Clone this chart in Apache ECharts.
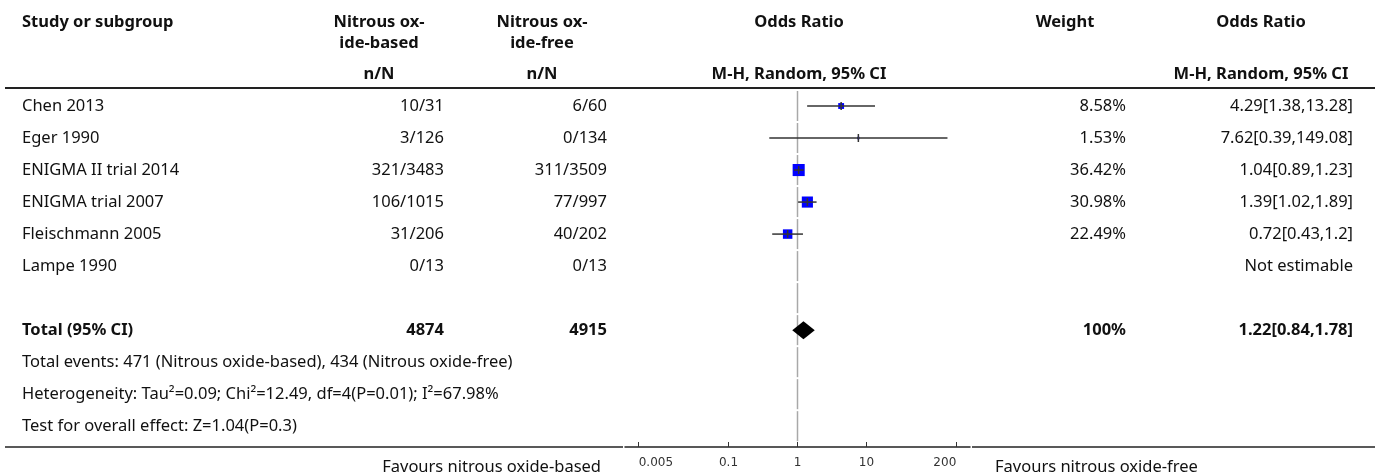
<!DOCTYPE html>
<html>
<head>
<meta charset="utf-8">
<script src="https://cdn.jsdelivr.net/npm/echarts@6/dist/echarts.min.js"></script>
<style>
  html, body { margin: 0; padding: 0; background: #fff; }
  #chart { width: 1375px; height: 474px; }
</style>
</head>
<body>
<div id="chart"></div>
<script>
// ---- Study data ----
const studies = ['Chen 2013', 'Eger 1990', 'ENIGMA II trial 2014', 'ENIGMA trial 2007', 'Fleischmann 2005', 'Lampe 1990'];
const nitrousBased = ['10/31', '3/126', '321/3483', '106/1015', '31/206', '0/13'];
const nitrousFree = ['6/60', '0/134', '311/3509', '77/997', '40/202', '0/13'];
const oddsRatio = [4.29, 7.62, 1.04, 1.39, 0.72, null];
const ciLower = [1.38, 0.39, 0.89, 1.02, 0.43, null];
const ciUpper = [13.28, 149.08, 1.23, 1.89, 1.2, null];
const weights = [8.58, 1.53, 36.42, 30.98, 22.49, null];

// ---- Pooled result ----
const totalBased = 4874;
const totalFree = 4915;
const totalOR = 1.22;
const totalLower = 0.84;
const totalUpper = 1.78;
const totalWeight = 100;

// ---- Footer notes ----
const footerNotes = [
  'Total events: 471 (Nitrous oxide-based), 434 (Nitrous oxide-free)',
  'Heterogeneity: Tau\u00b2=0.09; Chi\u00b2=12.49, df=4(P=0.01); I\u00b2=67.98%',
  'Test for overall effect: Z=1.04(P=0.3)'
];

// ---- Axis ticks (odds ratio, log scale) ----
const tickValues = [0.005, 0.1, 1, 10, 200];
const tickLabels = ['0.005', '0.1', '1', '10', '200'];

// Row layout: studies 0..5, blank, total 7, footers 8..10
const studyRows = [0, 1, 2, 3, 4, 5];
const totalRow = 7;
const footerRows = [8, 9, 10];

const FONT = 'Noto Sans';
const FS = 16.5;
const lg = Math.log10;

const chart = echarts.init(document.getElementById('chart'));

const studyData = [];
studyRows.forEach((r, i) => {
  if (oddsRatio[i] != null) {
    studyData.push([r, lg(oddsRatio[i]), lg(ciLower[i]), lg(ciUpper[i]), weights[i]]);
  }
});

const refRows = [];
for (let r = 0; r <= 10; r++) refRows.push([r, 0]);

chart.setOption({
  animation: false,
  grid: { left: 625, right: 405, top: 90, bottom: 27 },
  xAxis: {
    type: 'value',
    position: 'bottom',
    min: -2.5,
    max: 2.5,
    splitLine: { show: false },
    axisLine: { show: true, onZero: false, lineStyle: { color: '#222', width: 1.5 } },
    axisTick: {
      show: true, inside: true, length: 5,
      customValues: tickValues.map(lg),
      lineStyle: { color: '#333', width: 1 }
    },
    axisLabel: {
      customValues: tickValues.map(lg),
      margin: 10,
      fontFamily: 'DejaVu Sans',
      fontSize: 12,
      color: '#333',
      alignMinLabel: 'left',
      alignMaxLabel: 'right',
      formatter: v => {
        const k = tickValues.findIndex(t => Math.abs(lg(t) - v) < 1e-6);
        return k >= 0 ? tickLabels[k] : '';
      }
    }
  },
  yAxis: {
    type: 'value',
    inverse: true,
    min: -0.5,
    max: 10.65,
    show: false
  },
  series: [
    {
      // no-effect reference line at OR = 1, one segment per row
      type: 'custom',
      silent: true,
      data: refRows,
      encode: { x: 1, y: 0 },
      renderItem: (params, api) => {
        const r = api.value(0);
        const top = api.coord([0, r - 0.5]);
        const bot = api.coord([0, Math.min(r + 0.5, 10.6)]);
        return {
          type: 'line',
          shape: { x1: top[0], y1: top[1] + 1, x2: bot[0], y2: bot[1] - 1 },
          style: { stroke: '#a8a8a8', lineWidth: 1.5 }
        };
      }
    },
    {
      // per-study estimate: weighted square, CI line and centre tick
      type: 'custom',
      silent: true,
      data: studyData,
      encode: { x: [1, 2, 3], y: 0 },
      renderItem: (params, api) => {
        const r = api.value(0);
        const c = api.coord([api.value(1), r]);
        const lo = api.coord([api.value(2), r]);
        const hi = api.coord([api.value(3), r]);
        const side = 2 * Math.sqrt(api.value(4));
        return {
          type: 'group',
          children: [
            {
              type: 'rect',
              shape: { x: c[0] - side / 2, y: c[1] - side / 2, width: side, height: side },
              style: { fill: '#0000ff' }
            },
            {
              type: 'line',
              shape: { x1: lo[0], y1: c[1], x2: hi[0], y2: c[1] },
              style: { stroke: '#333', lineWidth: 1.5 }
            },
            {
              type: 'line',
              shape: { x1: c[0], y1: c[1] - 4, x2: c[0], y2: c[1] + 4 },
              style: { stroke: '#333', lineWidth: 1.5 }
            }
          ]
        };
      }
    },
    {
      // pooled estimate diamond
      type: 'custom',
      silent: true,
      data: [[totalRow, lg(totalOR), lg(totalLower), lg(totalUpper)]],
      encode: { x: [1, 2, 3], y: 0 },
      renderItem: (params, api) => {
        const r = api.value(0);
        const c = api.coord([api.value(1), r]);
        const lo = api.coord([api.value(2), r]);
        const hi = api.coord([api.value(3), r]);
        return {
          type: 'polygon',
          shape: { points: [[lo[0], c[1]], [c[0], c[1] - 9], [hi[0], c[1]], [c[0], c[1] + 9]] },
          style: { fill: '#000' }
        };
      }
    }
  ]
});

// ---- Table text and rules ----
const rowY = r => chart.convertToPixel({ yAxisIndex: 0 }, r);

function txt(text, x, y, align, bold) {
  return {
    type: 'text', x: x, y: y, silent: true,
    style: {
      text: text,
      fontFamily: FONT,
      fontSize: FS,
      fontWeight: bold ? 'bold' : 'normal',
      fill: '#111',
      align: align, textAlign: align,
      verticalAlign: 'middle', textVerticalAlign: 'middle'
    }
  };
}
function rule(x1, x2, y, w) {
  return {
    type: 'line', silent: true,
    shape: { x1: x1, y1: y, x2: x2, y2: y },
    style: { stroke: '#222', lineWidth: w }
  };
}

const COL_STUDY = 22;
const COL_A_HEAD = 379, COL_A_RIGHT = 444;
const COL_B_HEAD = 542, COL_B_RIGHT = 607;
const COL_PLOT = 799;
const COL_W_HEAD = 1065, COL_W_RIGHT = 1126;
const COL_OR_HEAD = 1261, COL_OR_RIGHT = 1353;

const els = [];
// header
els.push(txt('Study or subgroup', COL_STUDY, 22, 'left', true));
els.push(txt('Nitrous ox-', COL_A_HEAD, 22, 'center', true));
els.push(txt('ide-based', COL_A_HEAD, 43, 'center', true));
els.push(txt('Nitrous ox-', COL_B_HEAD, 22, 'center', true));
els.push(txt('ide-free', COL_B_HEAD, 43, 'center', true));
els.push(txt('Odds Ratio', COL_PLOT, 22, 'center', true));
els.push(txt('Weight', COL_W_HEAD, 22, 'center', true));
els.push(txt('Odds Ratio', COL_OR_HEAD, 22, 'center', true));
els.push(txt('n/N', COL_A_HEAD, 74, 'center', true));
els.push(txt('n/N', COL_B_HEAD, 74, 'center', true));
els.push(txt('M-H, Random, 95% CI', COL_PLOT, 74, 'center', true));
els.push(txt('M-H, Random, 95% CI', COL_OR_HEAD, 74, 'center', true));
els.push(rule(5, 1375, 88, 2));

// study rows
studyRows.forEach((r, i) => {
  const y = rowY(r);
  els.push(txt(studies[i], COL_STUDY, y, 'left', false));
  els.push(txt(nitrousBased[i], COL_A_RIGHT, y, 'right', false));
  els.push(txt(nitrousFree[i], COL_B_RIGHT, y, 'right', false));
  if (weights[i] != null) {
    els.push(txt(weights[i] + '%', COL_W_RIGHT, y, 'right', false));
    els.push(txt(oddsRatio[i] + '[' + ciLower[i] + ',' + ciUpper[i] + ']', COL_OR_RIGHT, y, 'right', false));
  } else {
    els.push(txt('Not estimable', COL_OR_RIGHT, y, 'right', false));
  }
});

// total row
const yt = rowY(totalRow);
els.push(txt('Total (95% CI)', COL_STUDY, yt, 'left', true));
els.push(txt(String(totalBased), COL_A_RIGHT, yt, 'right', true));
els.push(txt(String(totalFree), COL_B_RIGHT, yt, 'right', true));
els.push(txt(totalWeight + '%', COL_W_RIGHT, yt, 'right', true));
els.push(txt(totalOR + '[' + totalLower + ',' + totalUpper + ']', COL_OR_RIGHT, yt, 'right', true));

// footers
footerRows.forEach((r, i) => {
  els.push(txt(footerNotes[i], COL_STUDY, rowY(r), 'left', false));
});

// bottom rule (the plot span is the x axis line itself)
els.push(rule(5, 623, 447, 1.5));
els.push(rule(972, 1375, 447, 1.5));
els.push(txt('Favours nitrous oxide-based', 601, 467, 'right', false));
els.push(txt('Favours nitrous oxide-free', 995, 467, 'left', false));

chart.setOption({ graphic: { elements: els } });
</script>
</body>
</html>
